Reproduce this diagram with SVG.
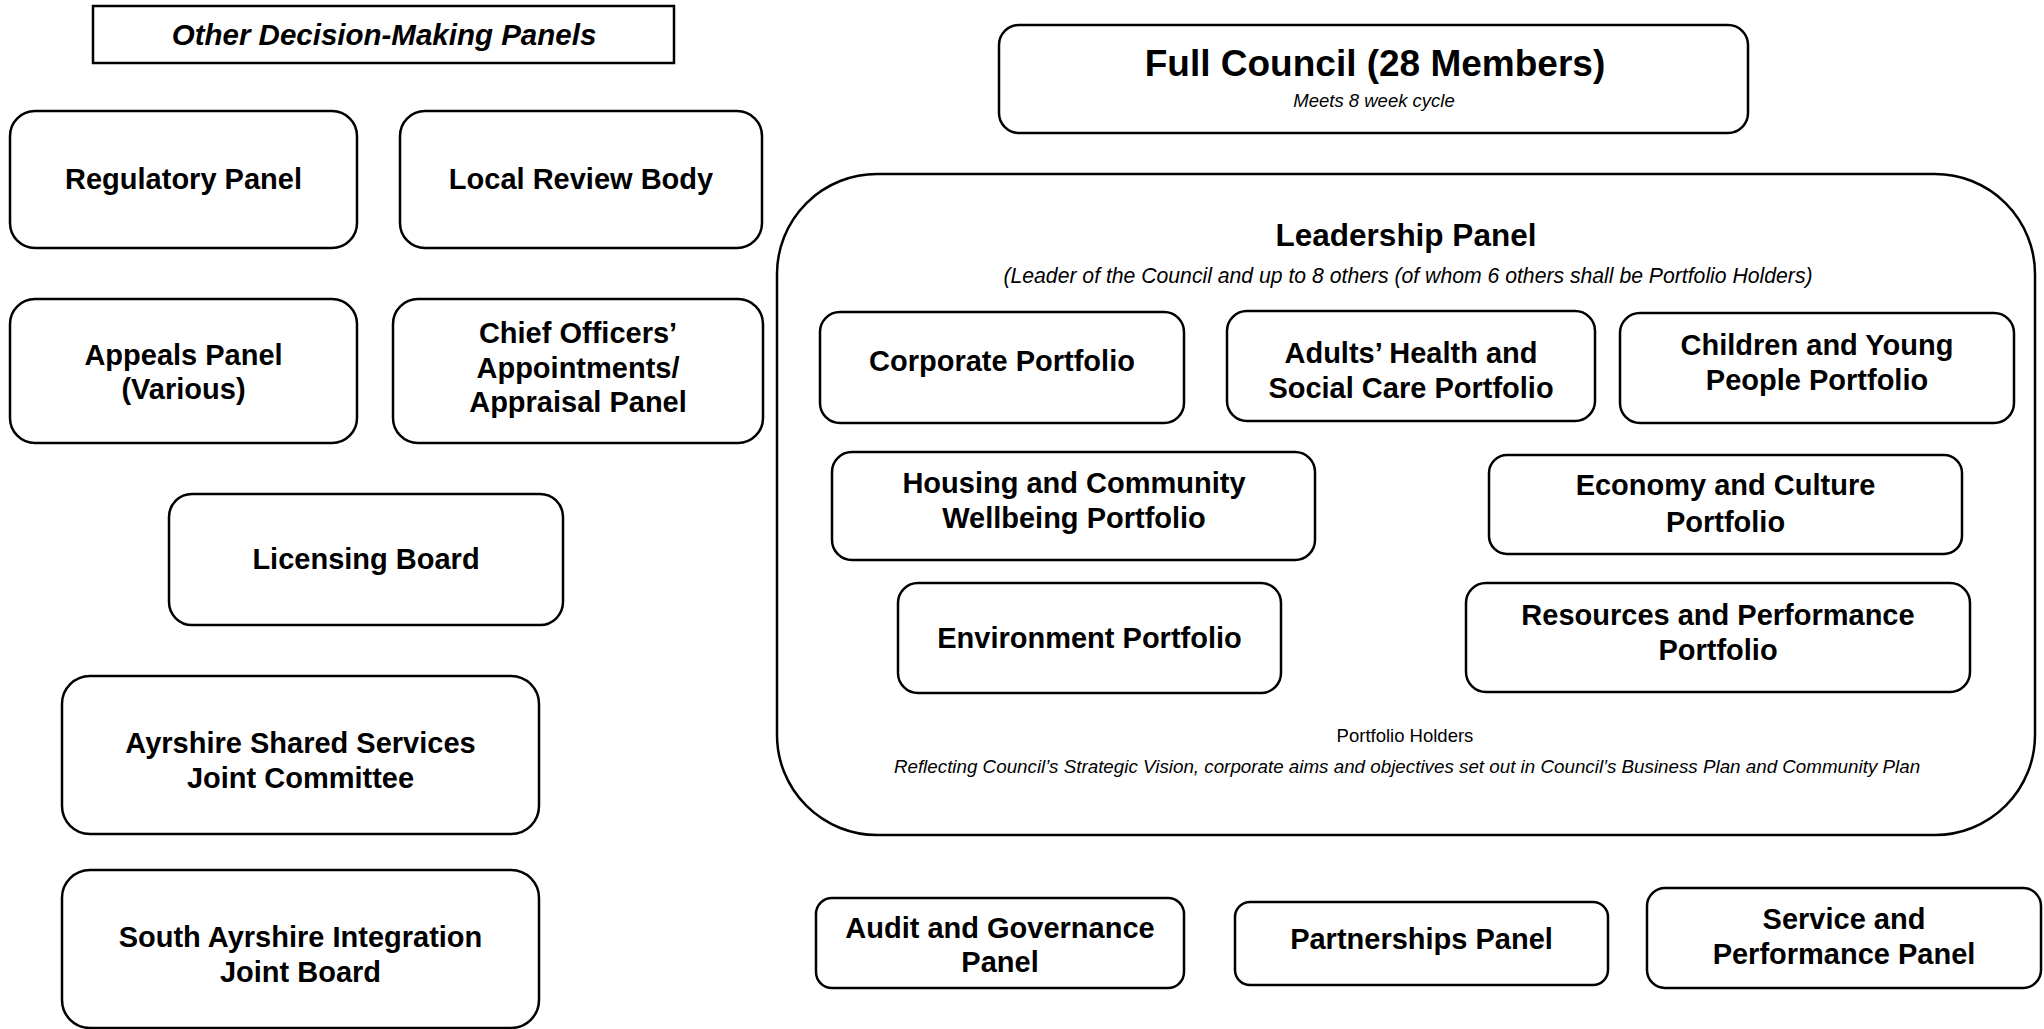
<svg xmlns="http://www.w3.org/2000/svg" width="2044" height="1029" viewBox="0 0 2044 1029">
<style>
  .box { fill: #ffffff; stroke: #000000; stroke-width: 2.5; }
  .lbl { font-family: "Liberation Sans", Arial, sans-serif; font-weight: bold; font-size: 29px; fill: #000; text-anchor: middle; }
  .hdr { font-family: "Liberation Sans", Arial, sans-serif; font-weight: bold; font-style: italic; font-size: 29.5px; fill: #000; text-anchor: middle; }
  .big { font-family: "Liberation Sans", Arial, sans-serif; font-weight: bold; font-size: 37px; fill: #000; text-anchor: middle; }
  .title { font-family: "Liberation Sans", Arial, sans-serif; font-weight: bold; font-size: 31.5px; fill: #000; text-anchor: middle; }
  .note { font-family: "Liberation Sans", Arial, sans-serif; font-style: italic; font-size: 18.5px; fill: #000; text-anchor: middle; }
  .refl { font-family: "Liberation Sans", Arial, sans-serif; font-style: italic; font-size: 18.8px; fill: #000; text-anchor: middle; }
  .sub { font-family: "Liberation Sans", Arial, sans-serif; font-style: italic; font-size: 21.2px; fill: #000; text-anchor: middle; }
  .plain { font-family: "Liberation Sans", Arial, sans-serif; font-size: 18.5px; fill: #000; text-anchor: middle; }
</style>
<rect width="2044" height="1029" fill="#ffffff"/>

<g id="other-panels-header">
  <rect class="box" x="93" y="6" width="581" height="57"/>
  <text class="hdr" x="384" y="45">Other Decision-Making Panels</text>
</g>

<g id="regulatory-panel">
  <rect class="box" x="10" y="111" width="347" height="137" rx="25" ry="25"/>
  <text class="lbl" x="183.5" y="189">Regulatory Panel</text>
</g>
<g id="local-review-body">
  <rect class="box" x="400" y="111" width="362" height="137" rx="25" ry="25"/>
  <text class="lbl" x="581" y="189">Local Review Body</text>
</g>
<g id="appeals-panel">
  <rect class="box" x="10" y="299" width="347" height="144" rx="25" ry="25"/>
  <text class="lbl" x="183.5" y="365">Appeals Panel</text>
  <text class="lbl" x="183.5" y="399">(Various)</text>
</g>
<g id="chief-officers-panel">
  <rect class="box" x="393" y="299" width="370" height="144" rx="25" ry="25"/>
  <text class="lbl" x="578" y="343">Chief Officers’</text>
  <text class="lbl" x="578" y="377.5">Appointments/</text>
  <text class="lbl" x="578" y="412">Appraisal Panel</text>
</g>
<g id="licensing-board">
  <rect class="box" x="169" y="494" width="394" height="131" rx="23" ry="23"/>
  <text class="lbl" x="366" y="569">Licensing Board</text>
</g>
<g id="ayrshire-shared-services">
  <rect class="box" x="62" y="676" width="477" height="158" rx="28" ry="28"/>
  <text class="lbl" x="300.5" y="753">Ayrshire Shared Services</text>
  <text class="lbl" x="300.5" y="788">Joint Committee</text>
</g>
<g id="south-ayrshire-ijb">
  <rect class="box" x="62" y="870" width="477" height="158" rx="28" ry="28"/>
  <text class="lbl" x="300.5" y="947">South Ayrshire Integration</text>
  <text class="lbl" x="300.5" y="982">Joint Board</text>
</g>

<g id="full-council">
  <rect class="box" x="999" y="25" width="749" height="108" rx="20" ry="20"/>
  <text class="big" x="1375" y="76">Full Council (28 Members)</text>
  <text class="note" x="1374" y="107">Meets 8 week cycle</text>
</g>

<g id="leadership-panel">
  <rect class="box" x="777" y="174" width="1258" height="661" rx="100" ry="100"/>
  <text class="title" x="1406" y="246">Leadership Panel</text>
  <text class="sub" x="1408" y="283">(Leader of the Council and up to 8 others (of whom 6 others shall be Portfolio Holders)</text>
  <text class="plain" x="1405" y="742">Portfolio Holders</text>
  <text class="refl" x="1407" y="773">Reflecting Council’s Strategic Vision, corporate aims and objectives set out in Council’s Business Plan and Community Plan</text>
</g>

<g id="corporate-portfolio">
  <rect class="box" x="820" y="312" width="364" height="111" rx="20" ry="20"/>
  <text class="lbl" x="1002" y="371">Corporate Portfolio</text>
</g>
<g id="adults-health-portfolio">
  <rect class="box" x="1227" y="311" width="368" height="110" rx="20" ry="20"/>
  <text class="lbl" x="1411" y="363">Adults’ Health and</text>
  <text class="lbl" x="1411" y="398">Social Care Portfolio</text>
</g>
<g id="children-portfolio">
  <rect class="box" x="1620" y="313" width="394" height="110" rx="20" ry="20"/>
  <text class="lbl" x="1817" y="355">Children and Young</text>
  <text class="lbl" x="1817" y="390">People Portfolio</text>
</g>
<g id="housing-portfolio">
  <rect class="box" x="832" y="452" width="483" height="108" rx="20" ry="20"/>
  <text class="lbl" x="1074" y="493">Housing and Community</text>
  <text class="lbl" x="1074" y="528">Wellbeing Portfolio</text>
</g>
<g id="economy-portfolio">
  <rect class="box" x="1489" y="455" width="473" height="99" rx="18" ry="18"/>
  <text class="lbl" x="1725.5" y="495">Economy and Culture</text>
  <text class="lbl" x="1725.5" y="532">Portfolio</text>
</g>
<g id="environment-portfolio">
  <rect class="box" x="898" y="583" width="383" height="110" rx="20" ry="20"/>
  <text class="lbl" x="1089.5" y="648">Environment Portfolio</text>
</g>
<g id="resources-portfolio">
  <rect class="box" x="1466" y="583" width="504" height="109" rx="20" ry="20"/>
  <text class="lbl" x="1718" y="625">Resources and Performance</text>
  <text class="lbl" x="1718" y="660">Portfolio</text>
</g>

<g id="audit-governance-panel">
  <rect class="box" x="816" y="898" width="368" height="90" rx="16" ry="16"/>
  <text class="lbl" x="1000" y="938">Audit and Governance</text>
  <text class="lbl" x="1000" y="972">Panel</text>
</g>
<g id="partnerships-panel">
  <rect class="box" x="1235" y="902" width="373" height="83" rx="15" ry="15"/>
  <text class="lbl" x="1421.5" y="949">Partnerships Panel</text>
</g>
<g id="service-performance-panel">
  <rect class="box" x="1647" y="888" width="394" height="100" rx="18" ry="18"/>
  <text class="lbl" x="1844" y="929">Service and</text>
  <text class="lbl" x="1844" y="964">Performance Panel</text>
</g>

<g id="connectors"></g>
</svg>
